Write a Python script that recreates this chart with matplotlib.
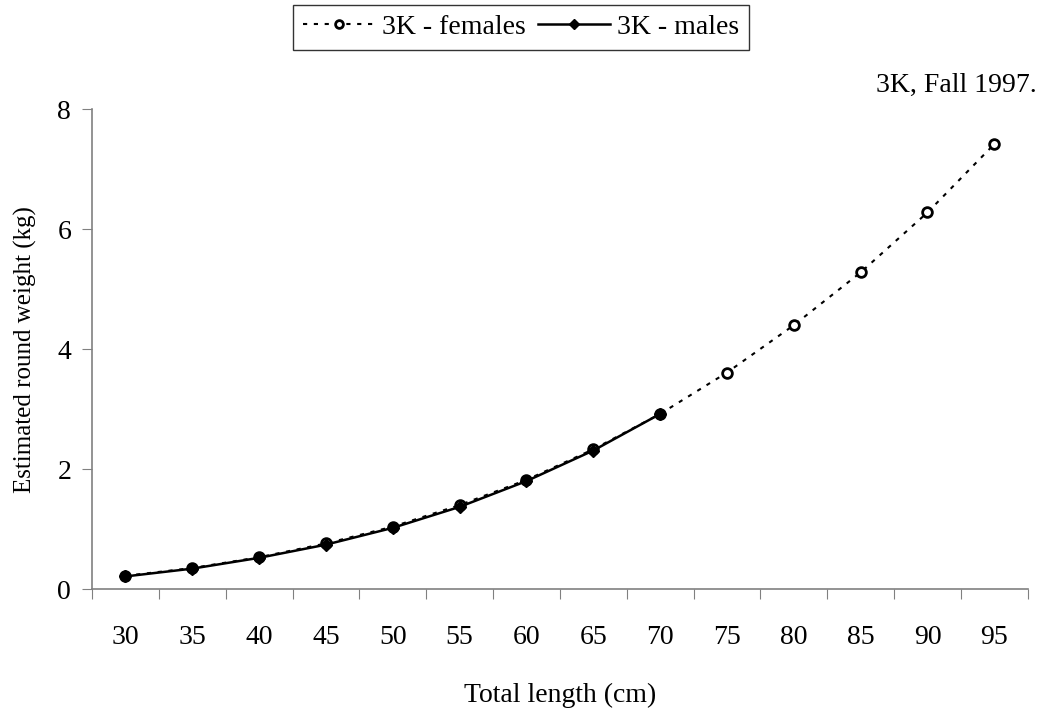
import matplotlib.pyplot as plt
import numpy as np

plt.rcParams['font.family'] = ['Liberation Serif', 'DejaVu Serif']

# total length classes (cm) and estimated round weight (kg)
lengths = [30, 35, 40, 45, 50, 55, 60, 65, 70, 75, 80, 85, 90, 95]
females = [0.22, 0.35, 0.53, 0.76, 1.04, 1.40, 1.82, 2.33, 2.92, 3.61, 4.40, 5.28, 6.28, 7.42]
males = [0.21, 0.34, 0.52, 0.74, 1.02, 1.37, 1.80, 2.31, 2.92]

fs = 20

fig = plt.figure(figsize=(10.42, 7.17), dpi=100)
ax = fig.add_axes([0.0883, 0.1785, 0.898, 0.669])

pos = np.arange(len(lengths))
ax.plot(pos, females, color='black', linestyle=(0, (2, 3.2)), linewidth=1.5,
        marker='o', markersize=7, markerfacecolor='white', markeredgecolor='black',
        markeredgewidth=2, label='3K - females')
ax.plot(pos[:len(males)], males, color='black', linestyle='-', linewidth=1.8,
        marker='D', markersize=6.5, markerfacecolor='black', markeredgecolor='black',
        label='3K - males')

# category axis: ticks sit between the classes, labels in the middle
ax.set_xlim(-0.5, len(lengths) - 0.5)
ax.set_xticks(np.arange(-0.5, len(lengths), 1.0))
ax.set_xticklabels([])
ax.set_xticks(pos, minor=True)
ax.set_xticklabels([str(v) for v in lengths], minor=True, fontsize=fs)
ax.tick_params(axis='x', which='minor', length=0, pad=26)
ax.tick_params(axis='x', which='major', length=7, color='#808080', direction='out')

ax.set_ylim(0, 8)
ax.set_yticks([0, 2, 4, 6, 8])
ax.tick_params(axis='y', labelsize=fs, length=7, color='#808080', direction='out', pad=8)

for side in ['top', 'right']:
    ax.spines[side].set_visible(False)
for side in ['left', 'bottom']:
    ax.spines[side].set_color('#808080')
    ax.spines[side].set_linewidth(1.2)

ax.set_xlabel('Total length (cm)', fontsize=fs)
ax.set_ylabel('Estimated round weight (kg)', fontsize=18)
ax.xaxis.set_label_coords(0.5, -0.195)
ax.yaxis.set_label_coords(-0.0589, 0.5)

fig.text(0.995, 0.881, '3K, Fall 1997.', fontsize=fs, ha='right', va='center')

leg = fig.legend(loc='upper center', bbox_to_anchor=(0.5, 0.993), ncol=2, fontsize=fs,
                 frameon=True, fancybox=False, edgecolor='black', borderpad=0.35,
                 handlelength=2.6, handletextpad=0.25, columnspacing=0.45,
                 borderaxespad=0, markerscale=0.8)
leg.get_frame().set_linewidth(1.0)

fig.savefig('out.png', dpi=100)
